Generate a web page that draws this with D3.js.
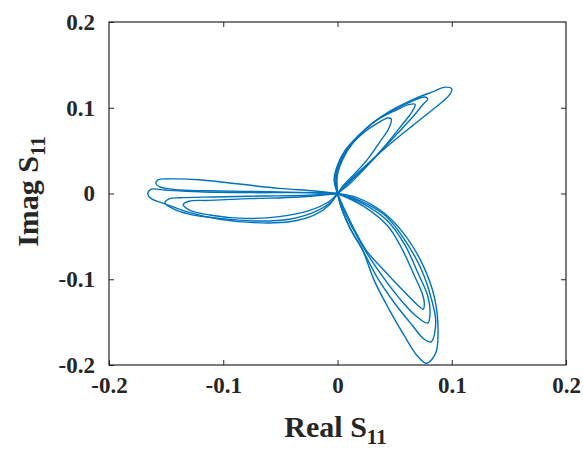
<!DOCTYPE html>
<html><head><meta charset="utf-8">
<script src="https://cdn.jsdelivr.net/npm/d3@7"></script>
<style>html,body{margin:0;padding:0;background:#fff;}svg{display:block;}</style>
</head><body>
<script>
// Tick values
const xTicks = [-0.2, -0.1, 0, 0.1, 0.2];
const yTicks = [-0.2, -0.1, 0, 0.1, 0.2];
const xLabel = "Real S";
const yLabel = "Imag S";
const subLabel = "11";

// Trajectory loops [Real S11, Imag S11], each loop starts and ends at the origin
const leftLoop1 = [[0,0],[-0.020,0.003],[-0.051,0.006],[-0.086,0.011],[-0.121,0.016],[-0.147,0.017],[-0.157,0.016],[-0.159,0.012],[-0.156,0.008],[-0.138,0.004],[-0.103,0.003],[-0.060,0.002],[-0.025,0.001],[0,0]];
const leftLoop2 = [[0,0],[-0.033,0.001],[-0.077,0.001],[-0.121,0.002],[-0.151,0.004],[-0.163,0.005],[-0.166,0.000],[-0.163,-0.006],[-0.151,-0.012],[-0.130,-0.022],[-0.103,-0.030],[-0.073,-0.034],[-0.042,-0.033],[-0.020,-0.025],[-0.007,-0.013],[0,0]];
const leftLoop3 = [[0,0],[-0.025,-0.002],[-0.068,-0.003],[-0.108,-0.004],[-0.138,-0.005],[-0.147,-0.006],[-0.151,-0.011],[-0.145,-0.017],[-0.130,-0.024],[-0.103,-0.029],[-0.073,-0.032],[-0.042,-0.030],[-0.0175,-0.020],[-0.005,-0.009],[0,0]];
const leftLoop4 = [[0,0],[-0.033,-0.004],[-0.077,-0.006],[-0.112,-0.008],[-0.130,-0.009],[-0.135,-0.013],[-0.130,-0.019],[-0.112,-0.025],[-0.081,-0.029],[-0.051,-0.027],[-0.025,-0.020],[-0.007,-0.009],[0,0]];

const upLoop1 = [[0,0],[-0.003,0.016],[0.000,0.033],[0.007,0.051],[0.018,0.067],[0.0315,0.083],[0.047,0.097],[0.065,0.109],[0.082,0.118],[0.0945,0.124],[0.100,0.122],[0.098,0.115],[0.084,0.0985],[0.0665,0.080],[0.048,0.060],[0.030,0.039],[0.013,0.018],[0.0035,0.005],[0,0]];
const upLoop2 = [[0,0],[-0.002,0.018],[0.002,0.037],[0.010,0.054],[0.020,0.069],[0.033,0.0845],[0.049,0.097],[0.066,0.108],[0.076,0.1125],[0.079,0.110],[0.075,0.104],[0.065,0.088],[0.051,0.068],[0.035,0.045],[0.019,0.024],[0.006,0.008],[0,0]];
const upLoop3 = [[0,0],[-0.001,0.020],[0.0035,0.039],[0.011,0.0565],[0.022,0.072],[0.035,0.086],[0.051,0.097],[0.063,0.104],[0.068,0.104],[0.065,0.095],[0.054,0.076],[0.040,0.053],[0.0245,0.030],[0.0105,0.011],[0,0]];
const upLoop4 = [[0,0],[0.000,0.022],[0.005,0.041],[0.013,0.058],[0.024,0.072],[0.035,0.082],[0.044,0.088],[0.047,0.087],[0.045,0.076],[0.037,0.060],[0.027,0.041],[0.015,0.023],[0.005,0.009],[0,0]];

const downLoop1 = [[0,0],[0.0175,-0.005],[0.041,-0.023],[0.061,-0.052],[0.076,-0.087],[0.085,-0.122],[0.088,-0.159],[0.086,-0.186],[0.078,-0.198],[0.070,-0.1895],[0.059,-0.167],[0.0455,-0.136],[0.032,-0.101],[0.022,-0.066],[0.012,-0.043],[0.004,-0.019],[0,0]];
const downLoop2 = [[0,0],[0.019,-0.008],[0.042,-0.026],[0.060,-0.0565],[0.0735,-0.089],[0.082,-0.122],[0.086,-0.150],[0.082,-0.173],[0.076,-0.170],[0.065,-0.153],[0.050,-0.128],[0.035,-0.0985],[0.022,-0.066],[0.012,-0.043],[0.004,-0.019],[0,0]];
const downLoop3 = [[0,0],[0.021,-0.011],[0.043,-0.031],[0.059,-0.060],[0.070,-0.0915],[0.079,-0.1195],[0.081,-0.139],[0.079,-0.151],[0.068,-0.142],[0.054,-0.122],[0.0385,-0.095],[0.024,-0.066],[0.013,-0.040],[0.005,-0.018],[0,0]];
const downLoop4 = [[0,0],[0.023,-0.015],[0.044,-0.038],[0.057,-0.066],[0.067,-0.095],[0.074,-0.116],[0.076,-0.128],[0.075,-0.135],[0.070,-0.130],[0.058,-0.114],[0.042,-0.0915],[0.025,-0.066],[0.014,-0.040],[0.006,-0.018],[0,0]];

const loops = [leftLoop1,leftLoop2,leftLoop3,leftLoop4,upLoop1,upLoop2,upLoop3,upLoop4,downLoop1,downLoop2,downLoop3,downLoop4];

const W = 583, H = 451;
const m = {left:109, right:17, top:22, bottom:86};
const pw = W - m.left - m.right, ph = H - m.top - m.bottom;

const svg = d3.select("body").append("svg").attr("width", W).attr("height", H);
const x = d3.scaleLinear().domain([-0.2, 0.2]).range([m.left, m.left + pw]);
const y = d3.scaleLinear().domain([-0.2, 0.2]).range([m.top + ph, m.top]);

const fmt = d => d === 0 ? "0" : (d < 0 ? "-" : "") + Math.abs(d).toFixed(1);
const font = "'Liberation Serif','Times New Roman',serif";
const tickLen = 5;

function styleAxis(g, showLabels){
  g.select(".domain").remove();
  g.selectAll(".tick line").attr("stroke", "#262626").attr("stroke-width", 1);
  g.selectAll(".tick text").attr("font-family", font).attr("font-weight", "bold")
    .attr("font-size", 23).attr("fill", "#262626");
  if (!showLabels) g.selectAll(".tick text").remove();
}

svg.append("g").attr("transform", `translate(0,${m.top + ph})`)
  .call(d3.axisBottom(x).tickValues(xTicks).tickFormat(fmt).tickSizeInner(-tickLen).tickSizeOuter(0).tickPadding(12))
  .call(g => styleAxis(g, true));
svg.append("g").attr("transform", `translate(0,${m.top})`)
  .call(d3.axisTop(x).tickValues(xTicks.slice(1, -1)).tickSizeInner(-tickLen).tickSizeOuter(0))
  .call(g => styleAxis(g, false));
svg.append("g").attr("transform", `translate(${m.left},0)`)
  .call(d3.axisLeft(y).tickValues(yTicks).tickFormat(fmt).tickSizeInner(-tickLen).tickSizeOuter(0).tickPadding(14))
  .call(g => styleAxis(g, true));
svg.append("g").attr("transform", `translate(${m.left + pw},0)`)
  .call(d3.axisRight(y).tickValues(yTicks.slice(1, -1)).tickSizeInner(-tickLen).tickSizeOuter(0))
  .call(g => styleAxis(g, false));

svg.append("rect").attr("x", m.left).attr("y", m.top).attr("width", pw).attr("height", ph)
  .attr("fill", "none").attr("stroke", "#262626").attr("stroke-width", 1.2);

svg.append("clipPath").attr("id", "clip").append("rect")
  .attr("x", m.left).attr("y", m.top - 2).attr("width", pw).attr("height", ph + 4);

const line = d3.line().x(d => x(d[0])).y(d => y(d[1])).curve(d3.curveCatmullRom.alpha(0.5));
svg.append("g").attr("clip-path", "url(#clip)").selectAll("path").data(loops).join("path")
  .attr("d", line).attr("fill", "none").attr("stroke", "#0072BD").attr("stroke-width", 1.4);

// Axis titles
const xt = svg.append("text").attr("x", x(0) - 2).attr("y", 437).attr("text-anchor", "middle")
  .attr("font-family", font).attr("font-weight", "bold").attr("font-size", 30).attr("fill", "#262626");
xt.append("tspan").text(xLabel);
xt.append("tspan").attr("dy", 7).attr("font-size", 21).text(subLabel);

const yt = svg.append("text").attr("transform", `translate(38,${y(0) - 2}) rotate(-90)`).attr("text-anchor", "middle")
  .attr("font-family", font).attr("font-weight", "bold").attr("font-size", 30).attr("fill", "#262626");
yt.append("tspan").text(yLabel);
yt.append("tspan").attr("dy", 7).attr("font-size", 21).text(subLabel);
</script>
</body></html>
